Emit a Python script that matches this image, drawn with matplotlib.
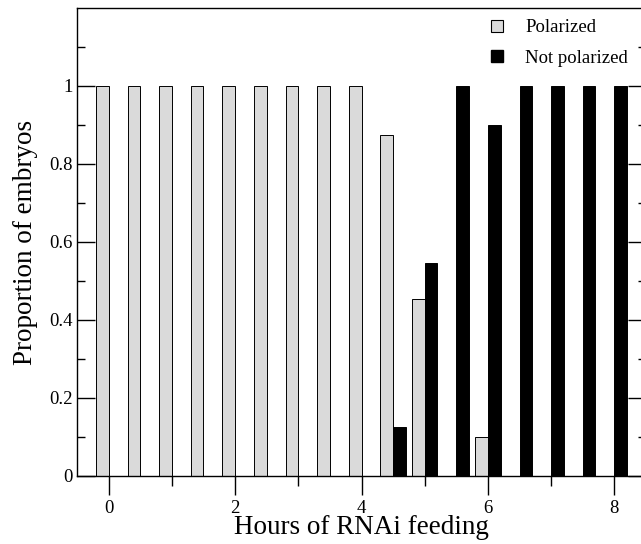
import matplotlib
matplotlib.use("Agg")
import matplotlib.pyplot as plt
from matplotlib.lines import Line2D
import numpy as np

plt.rcParams["font.family"] = ["Liberation Serif", "DejaVu Serif"]

hours = np.array([0, 0.5, 1, 1.5, 2, 2.5, 3, 3.5, 4, 4.5, 5, 5.5, 6, 6.5, 7, 7.5, 8])
polarized = [1, 1, 1, 1, 1, 1, 1, 1, 1, 0.875, 0.455, 0, 0.1, 0, 0, 0, 0]
not_polarized = [0, 0, 0, 0, 0, 0, 0, 0, 0, 0.125, 0.545, 1, 0.9, 1, 1, 1, 1]

GREY = "#dadada"

fig = plt.figure(figsize=(6.41, 5.44), dpi=100)
ax = fig.add_axes([77 / 641, 1 - 476 / 544, (646 - 77) / 641, (476 - 8) / 544])

ax.bar(hours - 0.1, polarized, width=0.2, color=GREY, edgecolor="black", linewidth=0.7)
ax.bar(hours + 0.1, not_polarized, width=0.2, color="black", edgecolor="black", linewidth=0.7)

ax.set_xlim(-0.5, 8.5)
ax.set_ylim(0, 1.2)
ax.set_xticks([0, 2, 4, 6, 8])
ax.set_xticks([1, 3, 5, 7], minor=True)
ax.set_yticks([0, 0.2, 0.4, 0.6, 0.8, 1.0])
ax.set_yticklabels(["0", "0.2", "0.4", "0.6", "0.8", "1"])
ax.set_yticks(np.arange(0.1, 1.2, 0.2), minor=True)

ax.tick_params(axis="x", which="both", direction="out", labelsize=13.5, pad=3)
ax.tick_params(axis="x", which="major", length=14, width=1)
ax.tick_params(axis="x", which="minor", length=7, width=1)
ax.tick_params(axis="y", which="both", direction="in", right=True, labelsize=13.5, pad=3)
ax.tick_params(axis="y", which="major", length=13, width=1)
ax.tick_params(axis="y", which="minor", length=6, width=1)

for s in ax.spines.values():
    s.set_linewidth(1)

ax.set_xlabel("Hours of RNAi feeding", fontsize=19.5, labelpad=-1)
ax.set_ylabel("Proportion of embryos", fontsize=19.5, labelpad=8)

handles = [
    Line2D([], [], linestyle="none", marker="s", markersize=8.4,
           markerfacecolor=GREY, markeredgecolor="black", markeredgewidth=0.8),
    Line2D([], [], linestyle="none", marker="s", markersize=8.4,
           markerfacecolor="black", markeredgecolor="black"),
]
ax.legend(handles, ["Polarized", "Not polarized"], loc="upper left",
          bbox_to_anchor=(486 / 641, 1 - 19 / 544), bbox_transform=fig.transFigure,
          frameon=False, fontsize=13.5, handletextpad=0.9, labelspacing=0.72,
          handlelength=1.2, borderaxespad=0, borderpad=0)

fig.savefig("out.png", dpi=100)
